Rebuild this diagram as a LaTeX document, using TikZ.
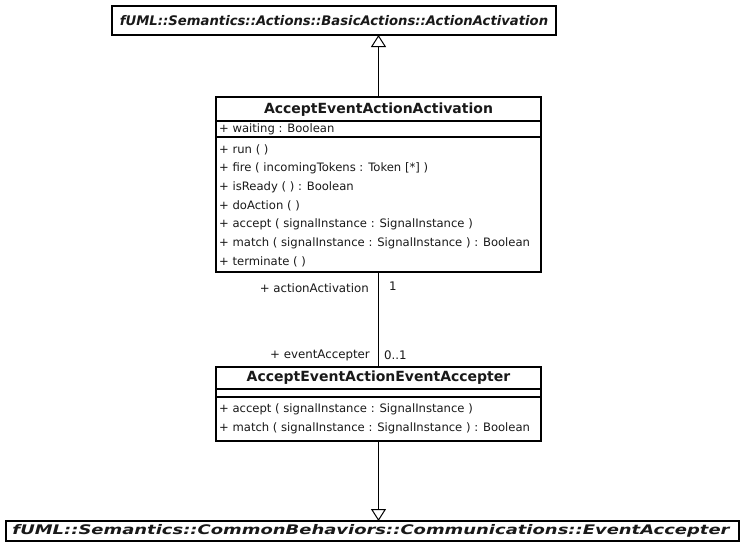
\documentclass[tikz,border=0pt]{standalone}
\usepackage{fontspec}
\setmainfont{DejaVu Sans}
\usetikzlibrary{arrows.meta}
\begin{document}
\begin{tikzpicture}[x=1pt,y=-1pt,
  classbox/.style={draw=black, line width=1.1pt, inner sep=0pt, outer sep=0pt, anchor=north west},
  sep/.style={draw=black, line width=1.1pt},
  oper/.style={anchor=west, inner sep=0pt, font=\fontsize{11.6}{14}\selectfont, text=black!90},
  ctitle/.style={inner sep=0pt, font=\fontsize{14}{16}\selectfont\bfseries, text=black!90},
  ptitle/.style={inner sep=0pt, font=\fontsize{13.2}{15}\selectfont\bfseries\itshape, text=black!90},
  rolelabel/.style={inner sep=0pt, font=\fontsize{11.8}{14}\selectfont, text=black!90},
  assoc/.style={draw=black, line width=1pt},
  gen/.style={draw=black, line width=1pt, -{Triangle[open, length=12pt, width=15pt, fill=white]}}
]
\useasboundingbox (0,0) rectangle (744,541);
\fill[white] (0,0) rectangle (744,541);

% top parent class
\node[classbox, minimum width=444pt, minimum height=29pt] (top) at (112,6) {};
\node[ptitle] (toptitle) at (top.center) {fUML::Semantics::Actions::BasicActions::ActionActivation};

% AcceptEventActionActivation
\node[classbox, minimum width=325pt, minimum height=175pt] (act) at (216,97) {};
\coordinate (actsep1) at (216,121);
\coordinate (actsep2) at (216,137);
\draw[sep] (actsep1) -- (actsep1 -| act.east);
\draw[sep] (actsep2) -- (actsep2 -| act.east);
\node[ctitle] (acttitle) at (378.5,109.5) {AcceptEventActionActivation};
\node[oper] (a1) at (219,129.5) {+ waiting : Boolean};
\node[oper] (o1) at (219,149.5) {+ run ( )};
\node[oper] (o2) at (219,168.3) {+ fire ( incomingTokens : Token [*] )};
\node[oper] (o3) at (219,187.1) {+ isReady ( ) : Boolean};
\node[oper] (o4) at (219,205.9) {+ doAction ( )};
\node[oper] (o5) at (219,224.7) {+ accept ( signalInstance : SignalInstance )};
\node[oper] (o6) at (219,243.5) {+ match ( signalInstance : SignalInstance ) : Boolean};
\node[oper] (o7) at (219,262.3) {+ terminate ( )};

% AcceptEventActionEventAccepter
\node[classbox, minimum width=325pt, minimum height=74pt] (acc) at (216,367) {};
\coordinate (accsep1) at (216,389);
\coordinate (accsep2) at (216,397);
\draw[sep] (accsep1) -- (accsep1 -| acc.east);
\draw[sep] (accsep2) -- (accsep2 -| acc.east);
\node[ctitle] (acctitle) at (378.5,378) {AcceptEventActionEventAccepter};
\node[oper] (p1) at (219,409) {+ accept ( signalInstance : SignalInstance )};
\node[oper] (p2) at (219,428) {+ match ( signalInstance : SignalInstance ) : Boolean};

% bottom parent class
\node[classbox, minimum width=733pt, minimum height=20pt] (bot) at (6,521) {};
\node[ptitle] (bottitle) at (371,531) {\scalebox{1.36}[1]{fUML::Semantics::CommonBehaviors::Communications::EventAccepter}};

% generalizations
\draw[gen] (act.north) -- (act.north |- top.south);
\draw[gen] (acc.south) -- (acc.south |- bot.north);

% association
\draw[assoc] (act.south) -- (acc.north);
\node[rolelabel, anchor=east] (r1) at (369,288) {+ actionActivation};
\node[rolelabel, anchor=west] (m1) at (389,286) {1};
\node[rolelabel, anchor=east] (r2) at (370,355) {+ eventAccepter};
\node[rolelabel, anchor=west] (m2) at (384,355) {0..1};
\end{tikzpicture}
\end{document}
